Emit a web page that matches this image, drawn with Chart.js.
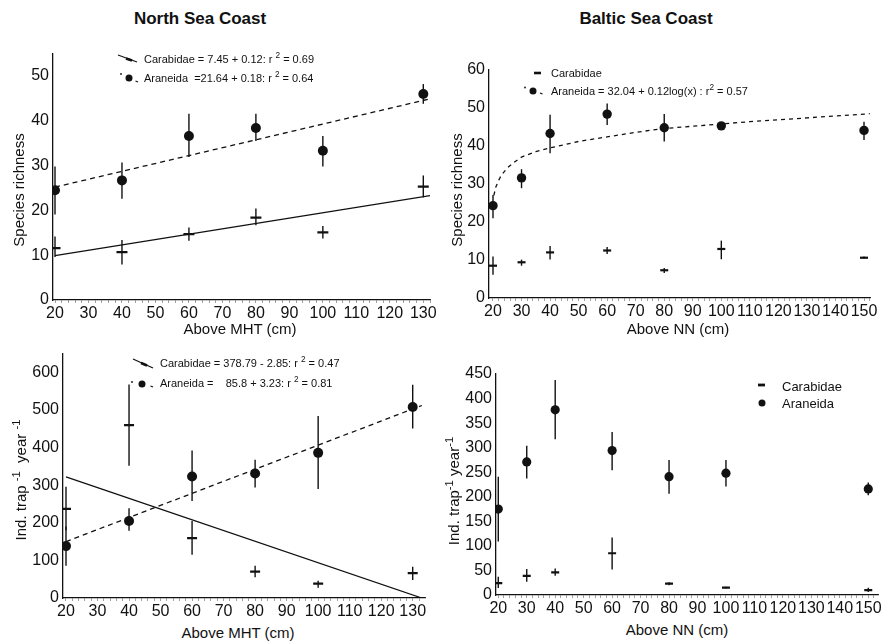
<!DOCTYPE html>
<html>
<head>
<meta charset="utf-8">
<script src="https://cdn.jsdelivr.net/npm/chart.js@4"></script>
<style>
body { margin: 0; background: #fff; }
#page { position: relative; width: 885px; height: 641px; overflow: hidden; font-family: "Liberation Sans", Arial, sans-serif; color: #111; }
canvas { position: absolute; }
.txt { position: absolute; white-space: nowrap; line-height: 1; }
.ttl { font-weight: bold; font-size: 17px; transform: translate(-50%, -50%); }
.ax { font-size: 15px; transform: translate(-50%, -50%); }
.ay { font-size: 15px; transform: translate(-50%, -50%) rotate(-90deg); }
.lg { font-size: 11px; transform: translateY(-50%); }
.lg4 { font-size: 13px; transform: translateY(-50%); }
sup { font-size: 75%; vertical-align: 0.5em; line-height: 0; }
</style>
</head>
<body>
<div id="page">
  <canvas id="c1" width="440" height="285" style="left:0px;top:40px"></canvas>
  <canvas id="c2" width="445" height="285" style="left:440px;top:40px"></canvas>
  <canvas id="c3" width="440" height="280" style="left:0px;top:340px"></canvas>
  <canvas id="c4" width="445" height="255" style="left:440px;top:360px"></canvas>

  <div class="txt ttl" style="left:200px;top:18px">North Sea Coast</div>
  <div class="txt ttl" style="left:646px;top:18px">Baltic Sea Coast</div>

  <div class="txt ax" style="left:240px;top:328px">Above MHT (cm)</div>
  <div class="txt ax" style="left:678px;top:328px">Above NN (cm)</div>
  <div class="txt ax" style="left:238px;top:632px">Above MHT (cm)</div>
  <div class="txt ax" style="left:677px;top:629px">Above NN (cm)</div>

  <div class="txt ay" style="left:18px;top:190px">Species richness</div>
  <div class="txt ay" style="left:456px;top:190px">Species richness</div>
  <div class="txt ay" style="left:20px;top:480px">Ind. trap <sup>-1</sup>&nbsp; year <sup>-1</sup></div>
  <div class="txt ay" style="left:453px;top:491px">Ind. trap<sup>-1</sup> year<sup>-1</sup></div>

  <div class="txt lg" style="left:144px;top:59px">Carabidae = 7.45 + 0.12: r <sup>2</sup> = 0.69</div>
  <div class="txt lg" style="left:144px;top:78px">Araneida&nbsp; =21.64 + 0.18: r <sup>2</sup> = 0.64</div>
  <div class="txt lg" style="left:551px;top:73px">Carabidae</div>
  <div class="txt lg" style="left:551px;top:91px">Araneida = 32.04 + 0.12log(x) : r<sup>2</sup> = 0.57</div>
  <div class="txt lg" style="left:160px;top:363px">Carabidae = 378.79 - 2.85: r <sup>2</sup> = 0.47</div>
  <div class="txt lg" style="left:160px;top:383px">Araneida =&nbsp;&nbsp;&nbsp; 85.8 + 3.23: r <sup>2</sup> = 0.81</div>
  <div class="txt lg4" style="left:782px;top:386px">Carabidae</div>
  <div class="txt lg4" style="left:782px;top:403px">Araneida</div>
</div>
<script>
// North Sea coast, species richness
const nsRichX = [20, 40, 60, 80, 100, 130];
const nsRichCarab = [11.6, 10.7, 14.7, 18.4, 15.1, 25.3];
const nsRichCarabLo = [9.6, 7.9, 13.2, 16.7, 13.7, 22.9];
const nsRichCarabHi = [14.2, 13.4, 16.2, 20.4, 16.5, 27.8];
const nsRichAran = [24.5, 26.7, 36.6, 38.4, 33.3, 46.0];
const nsRichAranLo = [19.1, 22.6, 31.9, 35.5, 29.8, 43.8];
const nsRichAranHi = [29.8, 30.7, 41.6, 41.6, 36.6, 48.2];
const nsRichFitX = [20, 132];
const nsRichCarabFit = [9.9, 23.3];
const nsRichAranFit = [25.2, 44.9];

// Baltic coast, species richness
const bsRichX = [20, 30, 40, 60, 80, 100, 150];
const bsRichCarab = [8.5, 9.4, 12.0, 12.5, 7.3, 12.9, 10.6];
const bsRichCarabLo = [6.1, 8.5, 10.1, 11.6, 6.6, 10.2, 10.3];
const bsRichCarabHi = [10.9, 10.1, 13.7, 13.4, 7.9, 15.1, 10.9];
const bsRichAran = [24.3, 31.6, 43.3, 48.4, 44.8, 45.3, 44.1];
const bsRichAranLo = [21.0, 28.9, 38.1, 45.5, 41.2, 44.5, 41.6];
const bsRichAranHi = [27.1, 33.9, 48.2, 51.2, 48.4, 46.0, 46.4];
const bsRichCurveX = [20.3, 21, 22, 23, 25, 27, 30, 35, 40, 50, 60, 70, 80, 90, 100, 110, 120, 130, 140, 152];
const bsRichCurveY = [27.0, 29.2, 31.0, 32.4, 34.2, 35.5, 37.1, 38.5, 39.5, 41.2, 42.4, 43.6, 44.6, 45.2, 45.8, 46.4, 46.9, 47.4, 47.9, 48.5];

// North Sea coast, individuals per trap and year
const nsAbX = [20, 40, 60, 80, 100, 130];
const nsAbCarab = [237, 460, 159, 70, 38, 66];
const nsAbCarabLo = [180, 352, 115, 55, 27, 48];
const nsAbCarabHi = [296, 568, 205, 86, 46, 83];
const nsAbAran = [138, 205, 323, 331, 386, 508];
const nsAbAranLo = [86, 179, 258, 294, 290, 451];
const nsAbAranHi = [190, 239, 392, 368, 484, 567];
const nsAbFitX = [20, 132.9];
const nsAbCarabFit = [322, 0];
const nsAbAranFit = [150, 512];

// Baltic coast, individuals per trap and year
const bsAbX = [20, 30, 40, 60, 80, 100, 150];
const bsAbCarab = [24, 39, 46, 85, 23, 15, 10];
const bsAbCarabLo = [14, 27, 39, 52, 20, 13, 6];
const bsAbCarabHi = [37, 53, 54, 117, 26, 17, 15];
const bsAbAran = [175, 271, 377, 294, 241, 248, 216];
const bsAbAranLo = [109, 237, 317, 254, 206, 221, 203];
const bsAbAranHi = [241, 304, 438, 332, 275, 275, 229];

const pts = (xs, ys) => xs.map((x, i) => ({ x: x, y: ys[i] }));
const fontTick = { family: "'Liberation Sans', Arial, sans-serif", size: 16 };

// vertical error bars, drawn under the points
const errorBars = {
    id: "errorBars",
    beforeDatasetsDraw(chart) {
        const ctx = chart.ctx, xs = chart.scales.x, ys = chart.scales.y;
        chart.data.datasets.forEach(ds => {
            if (!ds.lo) return;
            ctx.save();
            ctx.strokeStyle = "#111";
            ctx.lineWidth = 1.4;
            ds.data.forEach((p, i) => {
                const px = xs.getPixelForValue(p.x);
                ctx.beginPath();
                ctx.moveTo(px, ys.getPixelForValue(ds.lo[i]));
                ctx.lineTo(px, ys.getPixelForValue(ds.hi[i]));
                ctx.stroke();
            });
            ctx.restore();
        });
    }
};

const carabSet = (xs, ys, lo, hi, r) => ({
    data: pts(xs, ys), lo: lo, hi: hi,
    pointStyle: "line", pointRadius: r, borderColor: "#111", pointBorderWidth: 2.2, showLine: false
});
const aranSet = (xs, ys, lo, hi, r) => ({
    data: pts(xs, ys), lo: lo, hi: hi,
    pointStyle: "circle", pointRadius: r, backgroundColor: "#111", borderColor: "#111", pointBorderWidth: 0, showLine: false
});
const fitSet = (xs, ys, dash) => ({
    data: pts(xs, ys), showLine: true, pointRadius: 0, borderColor: "#111", borderWidth: 1.3, borderDash: dash
});

// small legend symbols
const seg = (ctx, x1, y1, x2, y2, w, dash) => {
    ctx.save();
    ctx.strokeStyle = "#111"; ctx.lineWidth = w; ctx.setLineDash(dash || []);
    ctx.beginPath(); ctx.moveTo(x1, y1); ctx.lineTo(x2, y2); ctx.stroke();
    ctx.restore();
};
const dot = (ctx, x, y, r) => {
    ctx.save(); ctx.fillStyle = "#111";
    ctx.beginPath(); ctx.arc(x, y, r, 0, Math.PI * 2); ctx.fill();
    ctx.restore();
};

function makePanel(id, opt) {
    return new Chart(document.getElementById(id), {
        type: "scatter",
        data: { datasets: opt.datasets },
        options: {
            responsive: false,
            animation: false,
            events: [],
            layout: { padding: opt.pad },
            plugins: { legend: { display: false }, tooltip: { enabled: false } },
            scales: {
                x: {
                    type: "linear", min: opt.xMin, max: opt.xMax,
                    afterFit: s => { s.height = opt.xH; },
                    border: { color: "#111", width: 1.3 },
                    grid: { drawOnChartArea: false, tickLength: 3, color: "#888", lineWidth: 0.8 },
                    ticks: {
                        stepSize: 2, includeBounds: false, autoSkip: false, maxRotation: 0,
                        padding: 1, color: "#111", font: fontTick,
                        callback: v => (Math.abs(v - Math.round(v)) < 1e-6 && Math.round(v) % 10 === 0 ? Math.round(v) : "")
                    }
                },
                y: {
                    min: 0, max: opt.yMax,
                    afterFit: s => { s.width = opt.yW; },
                    border: { color: "#111", width: 1.3 },
                    grid: { drawOnChartArea: false, drawTicks: false },
                    ticks: { stepSize: opt.yStep, includeBounds: false, padding: 4, color: "#111", font: fontTick }
                }
            }
        },
        plugins: [errorBars, { id: "icons", afterDraw: c => opt.icons(c.ctx) }]
    });
}

makePanel("c1", {
    pad: { top: 8, right: 10, left: 0, bottom: 0 }, yW: 53, xH: 25,
    xMin: 19.4, xMax: 132, yMax: 55, yStep: 10,
    datasets: [
        aranSet(nsRichX, nsRichAran, nsRichAranLo, nsRichAranHi, 5),
        carabSet(nsRichX, nsRichCarab, nsRichCarabLo, nsRichCarabHi, 5.5),
        fitSet(nsRichFitX, nsRichCarabFit, []),
        fitSet(nsRichFitX, nsRichAranFit, [5, 4])
    ],
    icons: ctx => {
        seg(ctx, 118, 15, 137, 22, 1.2);
        seg(ctx, 126, 18.5, 132, 20.5, 2.6);
        dot(ctx, 121, 34, 0.9);
        dot(ctx, 129, 38, 3.5);
        seg(ctx, 135.5, 41, 138, 42, 1.2);
    }
});

makePanel("c2", {
    pad: { top: 30, right: 15, left: 0, bottom: 0 }, yW: 49, xH: 27,
    xMin: 18.6, xMax: 152.1, yMax: 60, yStep: 10,
    datasets: [
        aranSet(bsRichX, bsRichAran, bsRichAranLo, bsRichAranHi, 4.7),
        carabSet(bsRichX, bsRichCarab, bsRichCarabLo, bsRichCarabHi, 4),
        fitSet(bsRichCurveX, bsRichCurveY, [4, 4])
    ],
    icons: ctx => {
        seg(ctx, 94, 33, 101, 33, 2.6);
        dot(ctx, 85, 47.5, 0.9);
        dot(ctx, 93, 51, 3.5);
        seg(ctx, 100, 53, 102.5, 54, 1.2);
    }
});

makePanel("c3", {
    pad: { top: 10, right: 15, left: 0, bottom: 0 }, yW: 63, xH: 22,
    xMin: 19.05, xMax: 133.9, yMax: 650, yStep: 100,
    datasets: [
        aranSet(nsAbX, nsAbAran, nsAbAranLo, nsAbAranHi, 5),
        carabSet(nsAbX, nsAbCarab, nsAbCarabLo, nsAbCarabHi, 5),
        fitSet(nsAbFitX, nsAbCarabFit, []),
        fitSet(nsAbFitX, nsAbAranFit, [5, 4])
    ],
    icons: ctx => {
        seg(ctx, 133, 19, 153, 28, 1.2);
        seg(ctx, 141, 23, 147, 25.5, 2.6);
        dot(ctx, 132, 42, 0.9);
        dot(ctx, 142, 44, 3.5);
        seg(ctx, 150.5, 46, 153, 47, 1.2);
    }
});

makePanel("c4", {
    pad: { top: 14, right: 2, left: 0, bottom: 0 }, yW: 56, xH: 20,
    xMin: 19.2, xMax: 153.7, yMax: 450, yStep: 50,
    datasets: [
        aranSet(bsAbX, bsAbAran, bsAbAranLo, bsAbAranHi, 4.6),
        carabSet(bsAbX, bsAbCarab, bsAbCarabLo, bsAbCarabHi, 4)
    ],
    icons: ctx => {
        seg(ctx, 318, 25, 325, 25, 2.8);
        dot(ctx, 322, 43, 3.5);
    }
});
</script>
</body>
</html>
